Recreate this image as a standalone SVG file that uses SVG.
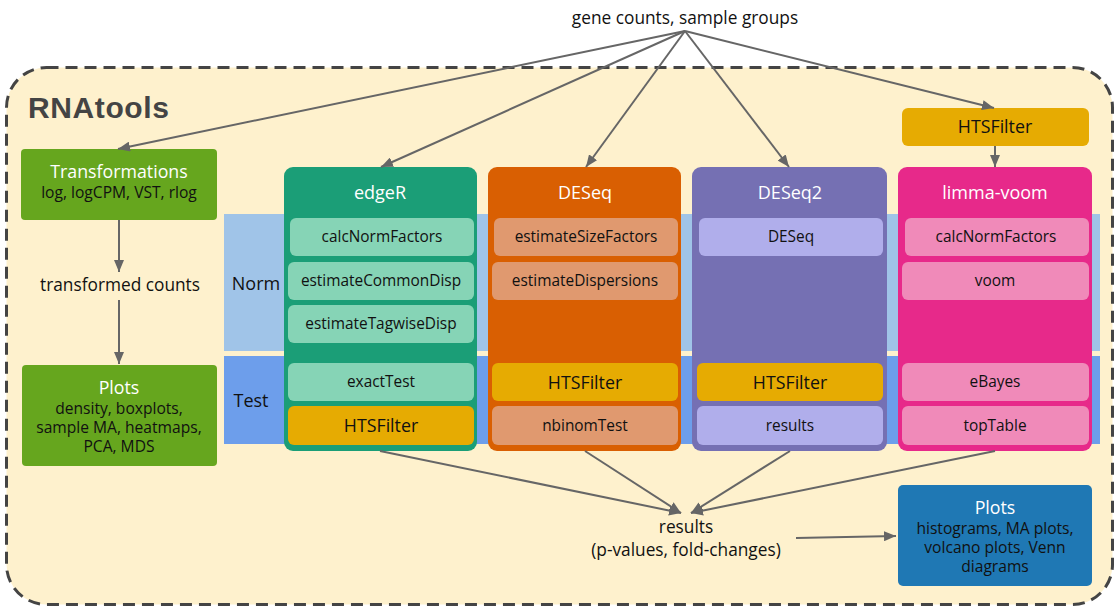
<svg xmlns="http://www.w3.org/2000/svg" width="1119" height="614" viewBox="0 0 1119 614">
<defs>
<marker id="ah" viewBox="0 0 12 10" refX="12" refY="5" markerWidth="12" markerHeight="10" markerUnits="userSpaceOnUse" orient="auto">
<path d="M0,0 L12,5 L0,10 z" fill="#666"/>
</marker>
<style>
text{font-family:"Open Sans","Noto Sans","DejaVu Sans",sans-serif;text-anchor:middle}
.t16{font-size:17.3px;fill:#111}
.hdr{font-size:18px;fill:#fff}
.sub{font-size:15.4px;fill:#111}
.hts{font-size:17.8px;fill:#111}
.gwt{font-size:17.8px;fill:#fff}
.gtx{font-size:15.6px;fill:#111}
.conn line,.conn path{stroke:#666;stroke-width:2;fill:none;marker-end:url(#ah)}
</style>
</defs>
<rect width="1119" height="614" fill="#fff"/>
<rect x="6.5" y="67.5" width="1106" height="537" rx="40" fill="#fef1cd" stroke="#444" stroke-width="3" stroke-dasharray="12,7"/>
<text x="28" y="118" style="font-family:'Liberation Sans',Arial,sans-serif;font-weight:bold;font-size:30px;letter-spacing:0.6px;fill:#444;text-anchor:start">RNAtools</text>
<text class="t16" x="685" y="24">gene counts, sample groups</text>

<g id="bands">
<rect x="224" y="214" width="876" height="137" fill="#a0c4e8"/>
<rect x="224" y="356" width="876" height="88" fill="#6d9eeb"/>
<text class="t16" x="256" y="290" style="font-size:18px">Norm</text>
<text class="t16" x="251" y="407" style="font-size:18px">Test</text>
</g>

<g id="transformations">
<rect x="21" y="149" width="196" height="71" rx="4" fill="#66a61e"/>
<text class="gwt" x="119" y="178">Transformations</text>
<text class="gtx" x="119" y="198">log, logCPM, VST, rlog</text>
</g>
<text id="transformed" class="t16" x="120" y="291">transformed counts</text>
<g id="plots-left">
<rect x="22" y="365" width="195" height="101" rx="4" fill="#66a61e"/>
<text class="gwt" x="119" y="394">Plots</text>
<text class="gtx" x="119" y="414">density, boxplots,</text>
<text class="gtx" x="119" y="433">sample MA, heatmaps,</text>
<text class="gtx" x="119" y="452">PCA, MDS</text>
</g>

<g id="edgeR">
<rect x="284" y="167" width="193" height="284" rx="9" fill="#1b9e77"/>
<text class="hdr" x="380" y="199">edgeR</text>
<rect x="290" y="218" width="184" height="38" rx="6" fill="#86d4b6"/>
<text class="sub" x="382" y="242">calcNormFactors</text>
<rect x="288" y="262" width="186" height="38" rx="6" fill="#86d4b6"/>
<text class="sub" x="381" y="286">estimateCommonDisp</text>
<rect x="288" y="305" width="186" height="38" rx="6" fill="#86d4b6"/>
<text class="sub" x="381" y="329">estimateTagwiseDisp</text>
<rect x="288" y="363" width="186" height="38" rx="6" fill="#86d4b6"/>
<text class="sub" x="381" y="387">exactTest</text>
<rect x="288" y="406" width="186" height="39" rx="6" fill="#e6ab02"/>
<text class="hts" x="381" y="432">HTSFilter</text>
</g>

<g id="DESeq">
<rect x="488" y="167" width="193" height="284" rx="9" fill="#d95f02"/>
<text class="hdr" x="585" y="199">DESeq</text>
<rect x="494" y="218" width="184" height="38" rx="6" fill="#e0996f"/>
<text class="sub" x="586" y="242">estimateSizeFactors</text>
<rect x="492" y="262" width="186" height="38" rx="6" fill="#e0996f"/>
<text class="sub" x="585" y="286">estimateDispersions</text>
<rect x="492" y="363" width="186" height="38" rx="6" fill="#e6ab02"/>
<text class="hts" x="585" y="389">HTSFilter</text>
<rect x="492" y="406" width="186" height="39" rx="6" fill="#e0996f"/>
<text class="sub" x="585" y="431">nbinomTest</text>
</g>

<g id="DESeq2">
<rect x="692" y="167" width="195" height="284" rx="9" fill="#7570b3"/>
<text class="hdr" x="790" y="199">DESeq2</text>
<rect x="699" y="218" width="184" height="38" rx="6" fill="#b0aeeb"/>
<text class="sub" x="791" y="242">DESeq</text>
<rect x="697" y="363" width="186" height="38" rx="6" fill="#e6ab02"/>
<text class="hts" x="790" y="389">HTSFilter</text>
<rect x="697" y="406" width="186" height="39" rx="6" fill="#b0aeeb"/>
<text class="sub" x="790" y="431">results</text>
</g>

<g id="HTSFilter-top">
<rect x="902" y="108" width="187" height="38" rx="6" fill="#e6ab02"/>
<text class="hts" x="995" y="133">HTSFilter</text>
</g>

<g id="limma-voom">
<rect x="898" y="167" width="194" height="284" rx="9" fill="#e7298a"/>
<text class="hdr" x="995" y="199">limma-voom</text>
<rect x="905" y="218" width="184" height="38" rx="6" fill="#f08ab9"/>
<text class="sub" x="996" y="242">calcNormFactors</text>
<rect x="902" y="262" width="187" height="38" rx="6" fill="#f08ab9"/>
<text class="sub" x="995" y="286">voom</text>
<rect x="902" y="363" width="187" height="38" rx="6" fill="#f08ab9"/>
<text class="sub" x="995" y="387">eBayes</text>
<rect x="902" y="406" width="187" height="39" rx="6" fill="#f08ab9"/>
<text class="sub" x="995" y="431">topTable</text>
</g>

<g id="results">
<text class="t16" x="686" y="533">results</text>
<text class="t16" x="686" y="556">(p-values, fold-changes)</text>
</g>

<g id="plots-right">
<rect x="898" y="485" width="194" height="101" rx="5" fill="#1f78b4"/>
<text class="gwt" x="995" y="514">Plots</text>
<text class="gtx" x="995" y="534">histograms, MA plots,</text>
<text class="gtx" x="995" y="553">volcano plots, Venn</text>
<text class="gtx" x="995" y="572">diagrams</text>
</g>

<g class="conn">
<line x1="685" y1="31" x2="118" y2="149"/>
<line x1="685" y1="31" x2="381" y2="167"/>
<line x1="685" y1="31" x2="586" y2="167"/>
<line x1="685" y1="31" x2="789" y2="167"/>
<line x1="685" y1="31" x2="994" y2="108"/>
<line x1="995" y1="146" x2="995" y2="167"/>
<line x1="119" y1="220" x2="119" y2="272"/>
<line x1="119" y1="300" x2="119" y2="364"/>
<line x1="380" y1="451" x2="681" y2="513"/>
<line x1="585" y1="451" x2="681" y2="513"/>
<line x1="790" y1="451" x2="691" y2="513"/>
<line x1="995" y1="451" x2="691" y2="513"/>
<line x1="796" y1="538" x2="896" y2="536"/>
</g>
</svg>
